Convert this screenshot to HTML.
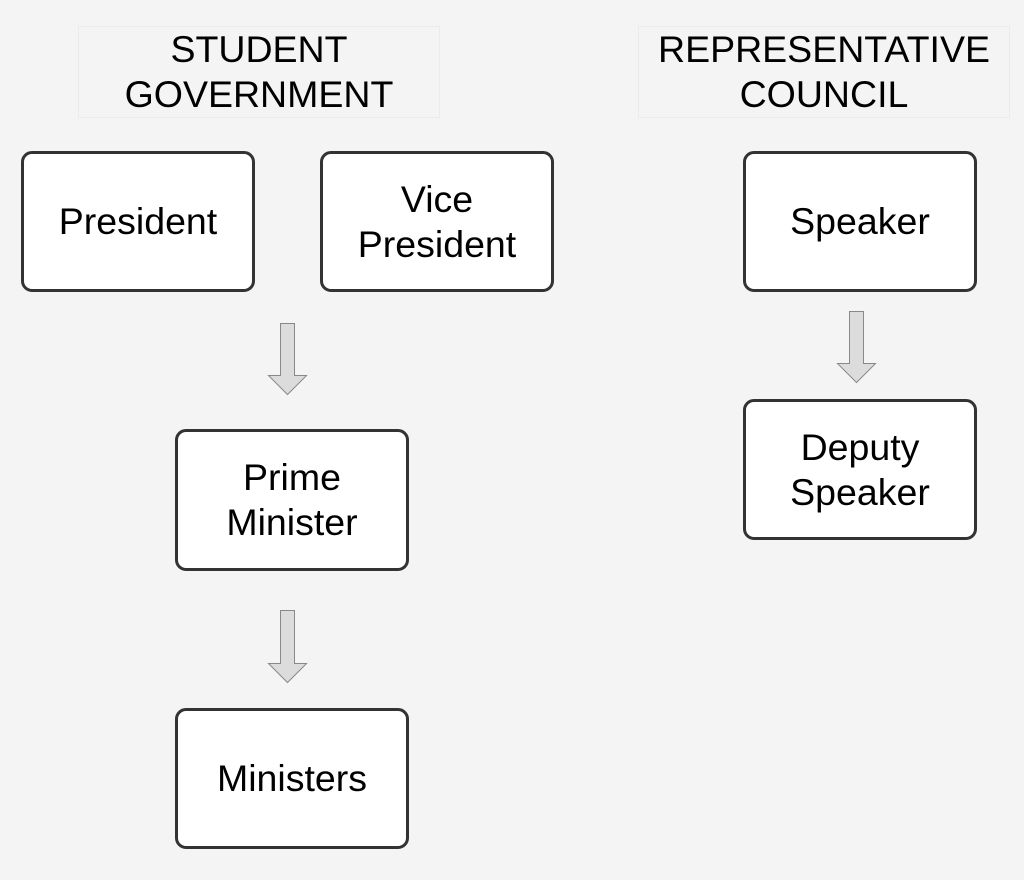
<!DOCTYPE html>
<html><head><style>
body{margin:0;width:1024px;height:880px;background:#f4f4f4;position:relative;font-family:"Liberation Sans",sans-serif;overflow:hidden}
.t{position:absolute;border:1px solid #ebebeb;display:flex;align-items:center;justify-content:center;text-align:center;font-size:37.5px;line-height:45px;color:#000}
.b{position:absolute;box-sizing:border-box;background:#fff;border:3px solid #333;border-radius:11px;display:flex;align-items:center;justify-content:center;text-align:center;font-size:37.5px;line-height:45px;color:#000}
svg{position:absolute;left:0;top:0}
</style></head><body>
<div class="t" style="left:78px;top:26px;width:360px;height:90px">STUDENT<br>GOVERNMENT</div>
<div class="t" style="left:638px;top:26px;width:370px;height:90px">REPRESENTATIVE<br>COUNCIL</div>
<div class="b" style="left:21px;top:151px;width:234px;height:141px">President</div>
<div class="b" style="left:320px;top:151px;width:234px;height:141px">Vice<br>President</div>
<div class="b" style="left:175px;top:429px;width:234px;height:142px">Prime<br>Minister</div>
<div class="b" style="left:175px;top:708px;width:234px;height:141px">Ministers</div>
<div class="b" style="left:743px;top:151px;width:234px;height:141px">Speaker</div>
<div class="b" style="left:743px;top:399px;width:234px;height:141px">Deputy<br>Speaker</div>
<svg width="1024" height="880">
<g fill="#dcdcdc" stroke="#888" stroke-width="1">
<polygon points="280.5,323.5 294.5,323.5 294.5,375.5 306.5,375.5 287.5,394.5 268.5,375.5 280.5,375.5"/>
<polygon points="280.5,610.5 294.5,610.5 294.5,663.5 306.5,663.5 287.5,682.5 268.5,663.5 280.5,663.5"/>
<polygon points="849.5,311.5 863.5,311.5 863.5,363.5 875.5,363.5 856.5,382.5 837.5,363.5 849.5,363.5"/>
</g></svg>
</body></html>
